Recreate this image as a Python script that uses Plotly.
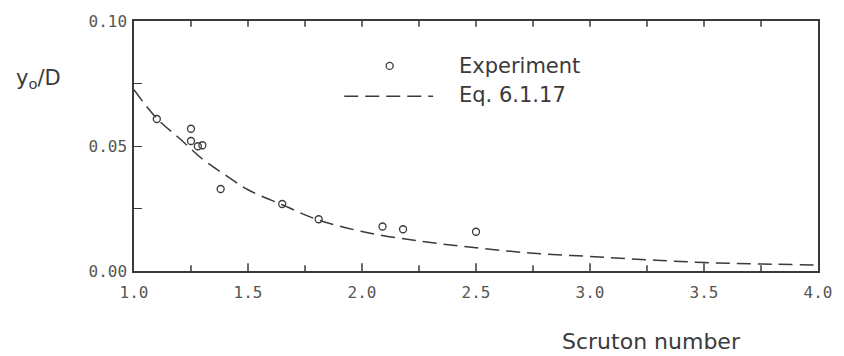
import plotly.graph_objects as go

# Measured response amplitude versus Scruton number
scruton_exp = [1.10, 1.25, 1.25, 1.28, 1.30, 1.38, 1.65, 1.81, 2.09, 2.18, 2.50]
amp_exp = [0.0608, 0.0569, 0.0520, 0.0499, 0.0503, 0.0328, 0.0268, 0.0207, 0.0178, 0.0167, 0.0157]

# Prediction of Eq. 6.1.17
scruton_eq = [1.0, 1.1, 1.2, 1.3, 1.4, 1.5, 1.65, 1.8, 2.0, 2.25, 2.5, 2.75, 3.0, 3.25, 3.5, 3.75, 4.0]
amp_eq = [0.0725, 0.0610, 0.0530, 0.0448, 0.0384, 0.0325, 0.0265, 0.0207, 0.0158, 0.0120,
          0.0093, 0.0071, 0.0058, 0.0045, 0.0034, 0.0028, 0.0024]

# Axis ranges and tick positions
x_range = [1.0, 4.0]
y_range = [0.0, 0.10]
x_major = [1.0, 1.5, 2.0, 2.5, 3.0, 3.5, 4.0]
x_minor = [1.25, 1.75, 2.25, 2.75, 3.25, 3.75]
y_step, y_minor = 0.05, 0.025

INK = "#3a3a3a"
TEXT_FONT = "DejaVu Sans"
TICK_FONT = "DejaVu Sans Mono"

# Plot-area geometry in pixels
W, H = 844, 356
L, R, T, B = 134, 17, 15, 85
pw, ph = W - L - R, H - T - B
y_per_px = (y_range[1] - y_range[0]) / ph


def px(xp):
    return (xp - L) / pw


def py(yp):
    return (H - B - yp) / ph


fig = go.Figure()

# Inward tick marks on the bottom and top frame lines, drawn as short segments
tick_x, tick_y = [], []
for v in x_major[1:-1]:
    tick_x += [v, v, None, v, v, None]
    tick_y += [y_range[0], y_range[0] + 8 * y_per_px, None,
               y_range[1], y_range[1] - 6 * y_per_px, None]
for v in x_minor:
    tick_x += [v, v, None, v, v, None]
    tick_y += [y_range[0], y_range[0] + 6 * y_per_px, None,
               y_range[1], y_range[1] - 6 * y_per_px, None]
fig.add_trace(go.Scatter(
    x=tick_x, y=tick_y, mode="lines", line=dict(color=INK, width=1.5),
    hoverinfo="skip", showlegend=False, cliponaxis=False,
))

fig.add_trace(go.Scatter(
    x=scruton_eq, y=amp_eq, mode="lines", name="Eq. 6.1.17",
    line=dict(color=INK, width=1.5, dash="14px,7px", shape="spline"),
    showlegend=False,
))
fig.add_trace(go.Scatter(
    x=scruton_exp, y=amp_exp, mode="markers", name="Experiment",
    marker=dict(symbol="circle-open", size=7, color=INK, line=dict(width=1.3, color=INK)),
    showlegend=False,
))

# Legend: open circle + dashed line with labels
fig.add_shape(type="circle", xref="paper", yref="paper",
              xsizemode="pixel", ysizemode="pixel",
              xanchor=px(393), yanchor=py(61),
              x0=-3.5, x1=3.5, y0=-3.5, y1=3.5,
              line=dict(color=INK, width=1.3))
fig.add_shape(type="line", xref="paper", yref="paper",
              x0=px(347), x1=px(437), y0=py(92), y1=py(92),
              line=dict(color=INK, width=1.5, dash="14px,7px"))
fig.add_annotation(text="Experiment", xref="paper", yref="paper",
                   x=px(461), y=py(61), xanchor="left", yanchor="middle",
                   showarrow=False, font=dict(family=TEXT_FONT, size=21, color=INK))
fig.add_annotation(text="Eq. 6.1.17", xref="paper", yref="paper",
                   x=px(461), y=py(91), xanchor="left", yanchor="middle",
                   showarrow=False, font=dict(family=TEXT_FONT, size=21, color=INK))

# Axis titles
fig.add_annotation(text="y<sub>o</sub>/D", xref="paper", yref="paper",
                   x=px(12), y=py(74), xanchor="left", yanchor="middle",
                   showarrow=False, font=dict(family=TEXT_FONT, size=21, color=INK))
fig.add_annotation(text="Scruton number", xref="paper", yref="paper",
                   x=px(658), y=py(343), xanchor="center", yanchor="middle",
                   showarrow=False, font=dict(family=TEXT_FONT, size=22, color=INK))

fig.update_layout(
    width=W, height=H,
    margin=dict(l=L, r=R, t=T, b=B),
    plot_bgcolor="white", paper_bgcolor="white",
    xaxis=dict(
        range=x_range, tickmode="array", tickvals=x_major, tickformat=".1f",
        showgrid=False, zeroline=False,
        showline=True, linecolor=INK, linewidth=1.5, mirror=True,
        ticks="", tickfont=dict(family=TICK_FONT, size=16, color="#555555"),
        ticklabelstandoff=6,
    ),
    yaxis=dict(
        range=y_range, tick0=y_range[0], dtick=y_step, tickformat=".2f",
        showgrid=False, zeroline=False,
        showline=True, linecolor=INK, linewidth=1.5, mirror=True,
        ticks="inside", ticklen=8, tickwidth=1.2, tickcolor=INK,
        minor=dict(tick0=y_range[0], dtick=y_minor, ticks="inside", ticklen=8,
                   tickwidth=1.2, tickcolor=INK, showgrid=False),
        tickfont=dict(family=TICK_FONT, size=16, color="#555555"),
        ticklabelstandoff=2,
    ),
)

fig.write_html("out.html")
